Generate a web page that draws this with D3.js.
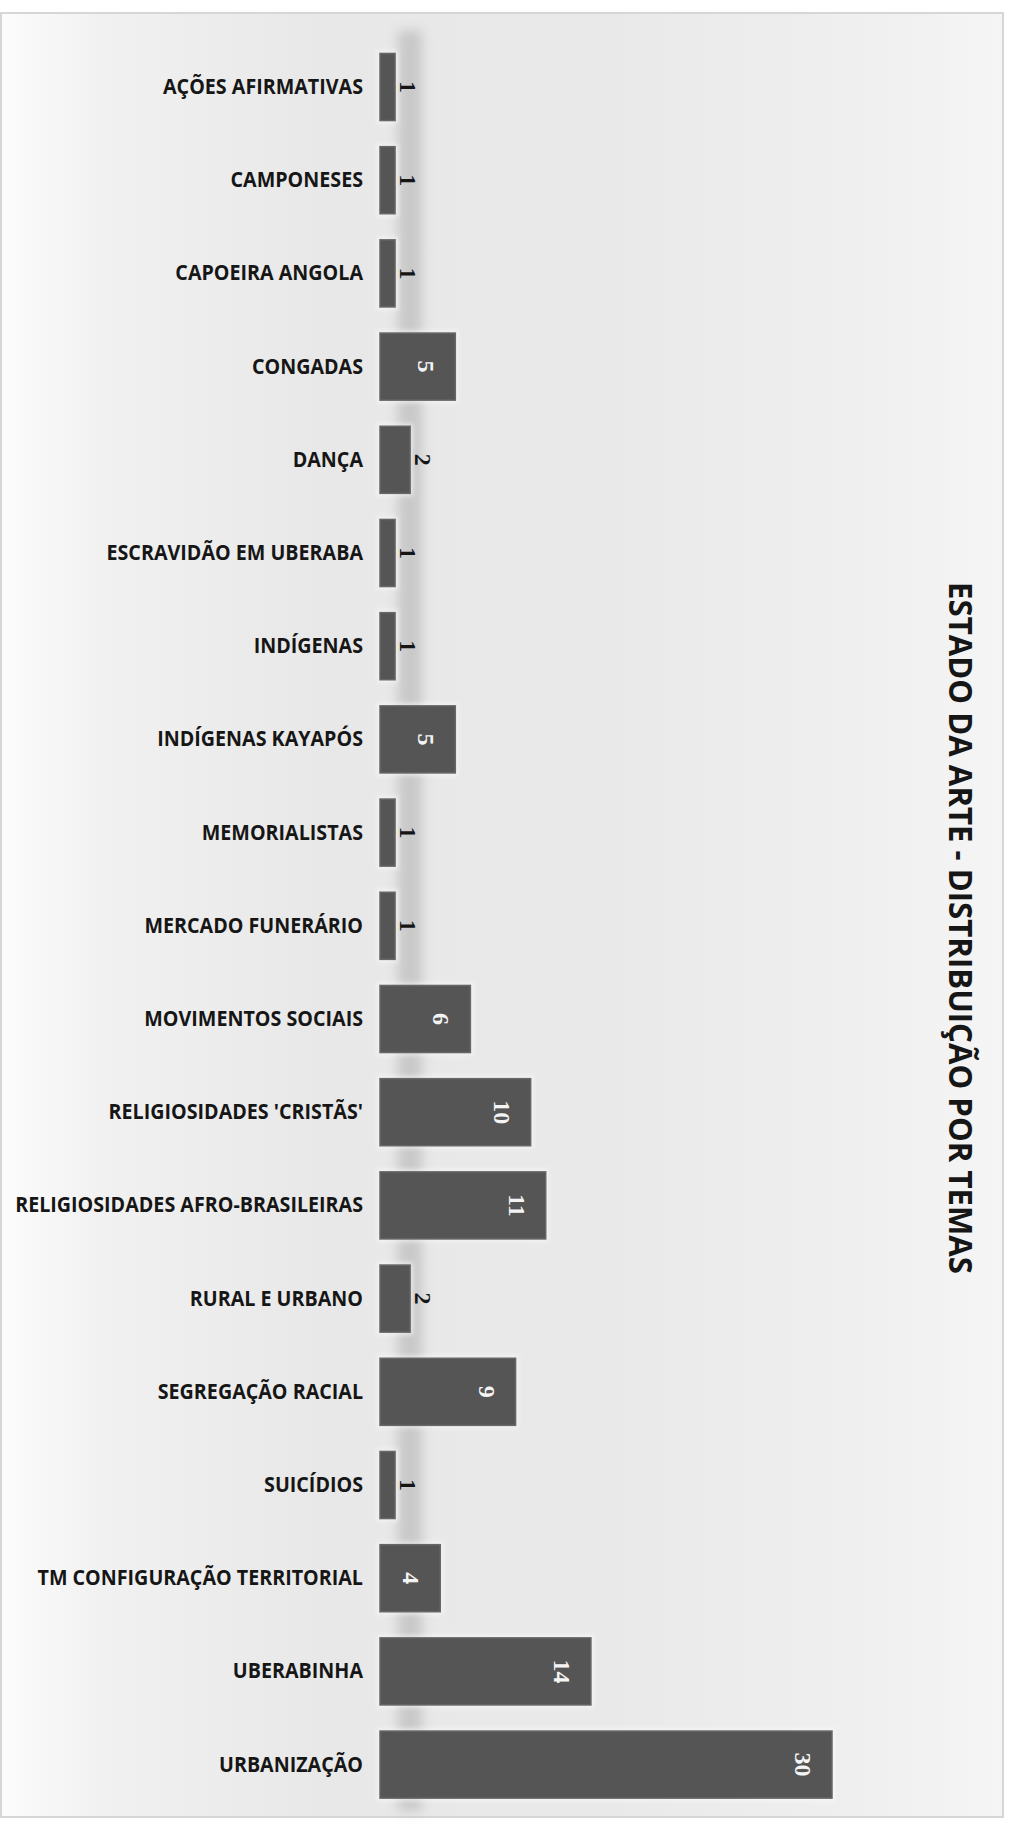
<!DOCTYPE html>
<html>
<head>
<meta charset="utf-8">
<script src="https://cdn.jsdelivr.net/npm/d3@7"></script>
<style>
  html, body { margin: 0; padding: 0; background: #ffffff; }
  svg { display: block; }
</style>
</head>
<body>
<svg id="chart" width="1010" height="1825"></svg>
<script>
// Themes and number of studies per theme
const categories = [
  "AÇÕES AFIRMATIVAS",
  "CAMPONESES",
  "CAPOEIRA ANGOLA",
  "CONGADAS",
  "DANÇA",
  "ESCRAVIDÃO EM UBERABA",
  "INDÍGENAS",
  "INDÍGENAS KAYAPÓS",
  "MEMORIALISTAS",
  "MERCADO FUNERÁRIO",
  "MOVIMENTOS SOCIAIS",
  "RELIGIOSIDADES 'CRISTÃS'",
  "RELIGIOSIDADES AFRO-BRASILEIRAS",
  "RURAL E URBANO",
  "SEGREGAÇÃO RACIAL",
  "SUICÍDIOS",
  "TM CONFIGURAÇÃO TERRITORIAL",
  "UBERABINHA",
  "URBANIZAÇÃO"
];
const values = [1, 1, 1, 5, 2, 1, 1, 5, 1, 1, 6, 10, 11, 2, 9, 1, 4, 14, 30];
const chartTitle = "ESTADO DA ARTE - DISTRIBUIÇÃO POR TEMAS";

const svg = d3.select("#chart");
const W = 1010, H = 1825;

// ---- definitions: background gradient, soft filters ----
const defs = svg.append("defs");
const bg = defs.append("linearGradient").attr("id", "bgGrad")
  .attr("x1", "0%").attr("x2", "100%").attr("y1", "0%").attr("y2", "0%");
[["0%", "#fcfcfc"], ["10%", "#f1f1f1"], ["32%", "#e8e8e8"], ["60%", "#e9e9e9"], ["85%", "#efefef"], ["100%", "#f5f5f5"]]
  .forEach(([o, c]) => bg.append("stop").attr("offset", o).attr("stop-color", c));

const blurStripe = defs.append("filter").attr("id", "stripeBlur")
  .attr("x", "-50%").attr("y", "-5%").attr("width", "200%").attr("height", "110%");
blurStripe.append("feGaussianBlur").attr("stdDeviation", 6);

const haloBlur = defs.append("filter").attr("id", "haloBlur")
  .attr("x", "-20%").attr("y", "-20%").attr("width", "140%").attr("height", "140%");
haloBlur.append("feGaussianBlur").attr("stdDeviation", 2);

// ---- chart frame ----
svg.append("rect").attr("x", 0).attr("y", 0).attr("width", W).attr("height", H).attr("fill", "#ffffff");
svg.append("rect")
  .attr("x", 1).attr("y", 13).attr("width", 1002).attr("height", 1804)
  .attr("fill", "url(#bgGrad)")
  .attr("stroke", "#d6d6d6").attr("stroke-width", 2);

// ---- scales ----
const x = d3.scaleLinear().domain([0, 30]).range([380, 832]);
const y = d3.scaleBand().domain(categories).range([40.4, 1811.2]).paddingInner(0.28).paddingOuter(0.14);

// soft shadow stripe behind the bars near the baseline
svg.append("rect")
  .attr("x", x(0) + 18).attr("y", y.range()[0] - 10)
  .attr("width", 24).attr("height", y.range()[1] - y.range()[0] + 10)
  .attr("fill", "#a9a9a9").attr("opacity", 0.5)
  .attr("filter", "url(#stripeBlur)");

const rows = categories.map((c, i) => ({ cat: c, val: values[i] }));

// light halo around each bar
svg.append("g").selectAll("rect").data(rows).join("rect")
  .attr("x", x(0) - 3)
  .attr("y", d => y(d.cat) - 3)
  .attr("width", d => x(d.val) - x(0) + 6)
  .attr("height", y.bandwidth() + 6)
  .attr("fill", "#fafafa").attr("opacity", 0.6)
  .attr("filter", "url(#haloBlur)");

// bars
svg.append("g").selectAll("rect").data(rows).join("rect")
  .attr("x", x(0))
  .attr("y", d => y(d.cat))
  .attr("width", d => x(d.val) - x(0))
  .attr("height", y.bandwidth())
  .attr("fill", "#555555")
  .attr("stroke", "#676767").attr("stroke-width", 1.5);

// ---- category labels (condensed bold sans, right-aligned) ----
const labelRight = 363;
const labelFont = "'Open Sans', 'DejaVu Sans', sans-serif";
const probe = svg.append("text")
  .attr("font-family", labelFont).attr("font-weight", 700).attr("font-size", 20.5)
  .text("RELIGIOSIDADES AFRO-BRASILEIRAS");
const probeW = probe.node().getComputedTextLength();
probe.remove();
const squeeze = 348 / probeW;

svg.append("g").selectAll("g").data(rows).join("g")
  .attr("transform", d => `translate(${labelRight},${y(d.cat) + y.bandwidth() / 2}) scale(${squeeze},1)`)
  .append("text")
  .attr("y", 7)
  .attr("text-anchor", "end")
  .attr("font-family", labelFont).attr("font-weight", 700).attr("font-size", 20.5)
  .attr("fill", "#161616")
  .text(d => d.cat);

// ---- value labels, rotated ----
const valueFont = "'Liberation Serif', 'DejaVu Serif', serif";
svg.append("g").selectAll("text").data(rows).join("text")
  .attr("transform", d => {
    const inside = (x(d.val) - x(0)) > 50;
    const bx = inside ? x(d.val) - 37 : x(d.val) + 5;
    return `translate(${bx},${y(d.cat) + y.bandwidth() / 2}) rotate(90)`;
  })
  .attr("text-anchor", "middle")
  .attr("font-family", valueFont).attr("font-weight", 700).attr("font-size", 24)
  .attr("fill", d => (x(d.val) - x(0)) > 50 ? "#f4f4f4" : "#151515")
  .text(d => d.val);

// ---- rotated title ----
svg.append("text")
  .attr("transform", "translate(949,928) rotate(90)")
  .attr("text-anchor", "middle")
  .attr("font-family", "'Open Sans', 'DejaVu Sans', sans-serif")
  .attr("font-weight", 700).attr("font-size", 33)
  .attr("textLength", 692).attr("lengthAdjust", "spacingAndGlyphs")
  .attr("fill", "#161616")
  .text(chartTitle);
</script>
</body>
</html>
